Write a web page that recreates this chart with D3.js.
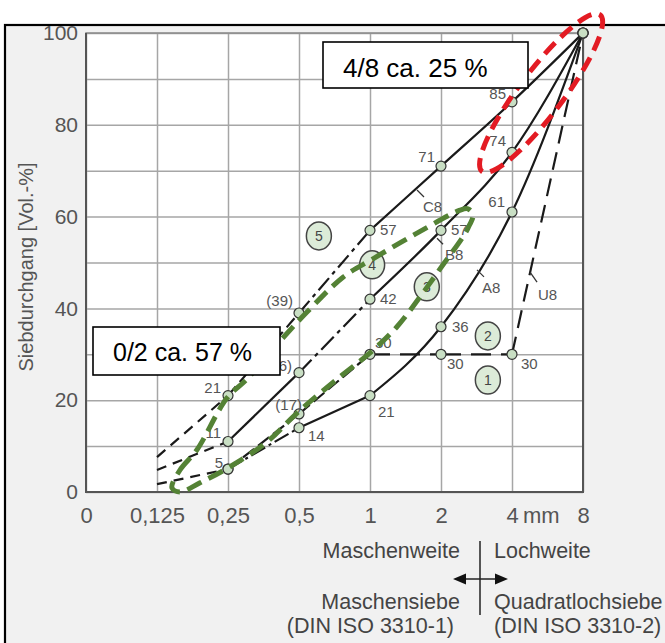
<!DOCTYPE html>
<html>
<head>
<meta charset="utf-8">
<script src="https://cdn.jsdelivr.net/npm/d3@7"></script>
<style>
body { margin: 0; background: #fff; }
text { font-family: "Liberation Sans", Arial, Helvetica, sans-serif; }
</style>
</head>
<body>
<div id="chart"></div>
<script>
// Sieblinien 0/8 mm (A8, B8, C8, U8)
const sieveLabels = ["0", "0,125", "0,25", "0,5", "1", "2", "4", "8"];
const yTicks = [0, 20, 40, 60, 80, 100];
const curveNames = ["A8", "B8", "C8", "U8"];
const valuesA8 = [null, 1.7, 5, 14, 21, 36, 61, 100];
const valuesB8 = [null, 4.8, 11, 26, 42, 57, 74, 100];
const valuesC8 = [null, 7.6, 21, 39, 57, 71, 85, 100];
const valuesU8 = [null, null, 5, 17, 30, 30, 30, 100];
const labelsA8 = ["", "", "5", "14", "21", "36", "61", ""];
const labelsB8 = ["", "", "11", "(26)", "42", "57", "74", ""];
const labelsC8 = ["", "", "21", "(39)", "57", "71", "85", ""];
const labelsU8 = ["", "", "", "(17)", "30", "30", "30", ""];
// Sieblinienbereiche
const zoneNames = ["1", "2", "3", "4", "5"];
const zoneX = [5.66, 5.66, 4.80, 4.03, 3.28];
const zoneY = [24.4, 34.0, 44.7, 49.5, 55.8];
// grüne Schleife 0/2 (Siebweite-Index, Durchgang %)
const loopX = [1.211, 1.324, 1.563, 1.986, 2.268, 2.775, 3.113, 3.620, 4.042, 4.662, 5.268, 5.380, 5.451,
               5.380, 5.310, 5.028, 4.704, 4.380, 4.000, 3.577, 2.972, 2.549, 2.028, 1.606, 1.324];
const loopY = [0.9, 4.8, 9.2, 20.5, 24.6, 33.6, 39.2, 46.8, 50.8, 56.4, 61.4, 61.7, 60.4,
               57.5, 55.6, 49.5, 42.5, 36.0, 30.3, 25.1, 17.2, 10.9, 5.5, 2.0, 0.0];
// rote Ellipse 4/8
const ovalX = 6.41, ovalY = 86.9;
const notes = ["4/8 ca. 25 %", "0/2 ca. 57 %"];

const width = 665, height = 643;
const svg = d3.select("#chart").append("svg").attr("width", width).attr("height", height);

const x = d3.scaleLinear().domain([0, 7]).range([86, 583]);
const y = d3.scaleLinear().domain([0, 100]).range([492, 33]);

// Rahmen + Hintergrund
svg.append("rect").attr("x", 5).attr("y", 25).attr("width", 720).attr("height", 700)
    .attr("fill", "#f1f1f1").attr("stroke", "#000").attr("stroke-width", 2.2);
svg.append("rect").attr("x", x(0)).attr("y", y(100)).attr("width", x(7) - x(0)).attr("height", y(0) - y(100))
    .attr("fill", "#fff");

// Gitter
let gx = svg.append("g").attr("transform", "translate(0," + y(0) + ")")
    .call(d3.axisBottom(x).tickValues(d3.range(8)).tickSize(-(y(0) - y(100))).tickFormat(""));
let gy = svg.append("g").attr("transform", "translate(" + x(0) + ",0)")
    .call(d3.axisLeft(y).tickValues(d3.range(0, 101, 10)).tickSize(-(x(7) - x(0))).tickFormat(""));
[gx, gy].forEach(g => {
    g.select(".domain").remove();
    g.selectAll("line").attr("stroke", "#a6a6a6").attr("stroke-width", 1.5);
});
svg.append("rect").attr("x", x(0)).attr("y", y(100)).attr("width", x(7) - x(0)).attr("height", y(0) - y(100))
    .attr("fill", "none").attr("stroke", "#8a8a8a").attr("stroke-width", 1.5);
svg.append("path").attr("d", "M" + x(0) + "," + y(100) + "V" + y(0) + "H" + x(7) + "V" + y(100))
    .attr("fill", "none").attr("stroke", "#555").attr("stroke-width", 2);

// Achsbeschriftung
let ax = svg.append("g").attr("transform", "translate(0," + y(0) + ")")
    .call(d3.axisBottom(x).tickValues(d3.range(8)).tickSize(0).tickPadding(15).tickFormat(i => sieveLabels[i]));
let ay = svg.append("g").attr("transform", "translate(" + x(0) + ",0)")
    .call(d3.axisLeft(y).tickValues(yTicks).tickSize(0).tickPadding(8));
[ax, ay].forEach(g => {
    g.select(".domain").remove();
    g.selectAll("text").attr("fill", "#555").attr("font-family", null);
});
ax.selectAll("text").attr("font-size", 22);
ay.selectAll("text").attr("font-size", 21);
svg.append("text").attr("x", x(6) + 11).attr("y", y(0) + 31).attr("font-size", 22).attr("fill", "#555").text("mm");
svg.append("text").attr("transform", "translate(33," + 267 + ") rotate(-90)").attr("text-anchor", "middle")
    .attr("font-size", 20).attr("fill", "#555").text("Siebdurchgang [Vol.-%]");

// Sieblinien
const curves = [valuesA8, valuesB8, valuesC8, valuesU8];
const labels = [labelsA8, labelsB8, labelsC8, labelsU8];
const segDash = [
    [null, "10,7", "16,4,3,4", "", null, null, null],
    [null, "10,7", "", "18,5,4,5", null, null, null],
    [null, "11,7", "12,6", "16,5,4,5", null, null, null],
    [null, null, "14,5", "14,5", "20,10", "20,10", "18,9"]
];
const smoothFrom = [4, 4, 4, 99];
const lineGen = d3.line().x(d => x(d[0])).y(d => y(d[1]));
const smoothGen = d3.line().x(d => x(d[0])).y(d => y(d[1])).curve(d3.curveMonotoneX);

let gl = svg.append("g").attr("id", "lines");
curves.forEach((vals, c) => {
    for (let i = 0; i < 7; i++) {
        if (vals[i] == null || vals[i + 1] == null || i >= smoothFrom[c]) continue;
        gl.append("path").attr("d", lineGen([[i, vals[i]], [i + 1, vals[i + 1]]]))
            .attr("fill", "none").attr("stroke", "#1a1a1a").attr("stroke-width", 2.2)
            .attr("stroke-dasharray", segDash[c][i] || null);
    }
    let pts = vals.map((v, i) => [i, v]).filter(d => d[0] >= smoothFrom[c]);
    if (pts.length > 1)
        gl.append("path").attr("d", smoothGen(pts)).attr("fill", "none").attr("stroke", "#1a1a1a").attr("stroke-width", 2.2);
});

// Kurvennamen mit Zeiger
const nameX = [5.507, 4.944, 4.662, 6.254];
const nameY = [48.4, 55.3, 65.8, 47.9];
const nameOff = [[5, 23, 7, 7], [8, 22, 6, 6], [6, 22, 7, 7], [8, 28, 7, 10]];
curveNames.forEach((n, c) => {
    let px = x(nameX[c]), py = y(nameY[c]), o = nameOff[c];
    svg.append("line").attr("x1", px).attr("y1", py).attr("x2", px + o[2]).attr("y2", py + o[3])
        .attr("stroke", "#333").attr("stroke-width", 1.3);
    svg.append("text").attr("x", px + o[0]).attr("y", py + o[1]).attr("font-size", 15).attr("fill", "#555").text(n);
});

// Messpunkte + Werte
const labelOff = [
    [null, null, [-5, -1, "end"], [9, 13, "start"], [8, 21, "start"], [11, 5, "start"], [-7, -5, "end"], null],
    [null, null, [-7, -4, "end"], [-7, -2, "end"], [10, 5, "start"], [10, 5, "start"], [-6, -6, "end"], null],
    [null, null, [-7, -3, "end"], [-6, -7, "end"], [10, 5, "start"], [-6, -4, "end"], [-6, -3, "end"], null],
    [null, null, null, [3, -4, "end"], [5, -6, "start"], [6, 15, "start"], [9, 15, "start"], null]
];
let gp = svg.append("g").attr("id", "points");
curves.forEach((vals, c) => {
    vals.forEach((v, i) => {
        if (v == null || i < 2) return;
        gp.append("circle").attr("cx", x(i)).attr("cy", y(v)).attr("r", 5)
            .attr("fill", "#c9dfc4").attr("stroke", "#333").attr("stroke-width", 1.2);
        let o = labelOff[c][i];
        if (labels[c][i] && o)
            gp.append("text").attr("x", x(i) + o[0]).attr("y", y(v) + o[1]).attr("text-anchor", o[2])
                .attr("font-size", 15).attr("fill", "#555").text(labels[c][i]);
    });
});

// Bereiche 1-5
zoneNames.forEach((n, i) => {
    svg.append("ellipse").attr("cx", x(zoneX[i])).attr("cy", y(zoneY[i])).attr("rx", 12.5).attr("ry", 14)
        .attr("fill", "#dcebd8").attr("stroke", "#444").attr("stroke-width", 1.5);
    svg.append("text").attr("x", x(zoneX[i])).attr("y", y(zoneY[i]) + 5).attr("text-anchor", "middle")
        .attr("font-size", 14).attr("fill", "#444").text(n);
});

// Markierungen
svg.append("path").attr("d", d3.line().x(d => x(d[0])).y(d => y(d[1])).curve(d3.curveCatmullRomClosed)(loopX.map((v, i) => [v, loopY[i]])))
    .attr("fill", "none").attr("stroke", "#548235").attr("stroke-width", 5).attr("stroke-dasharray", "16,8");
svg.append("ellipse").attr("cx", 0).attr("cy", 0).attr("rx", 98).attr("ry", 22)
    .attr("transform", "translate(" + x(ovalX) + "," + y(ovalY) + ") rotate(-53)")
    .attr("fill", "none").attr("stroke", "#e31b23").attr("stroke-width", 5).attr("stroke-dasharray", "15,8");

// Textkästen
const boxes = [[323, 42, 205, 46, 343, 77, 26], [93, 327, 187, 48, 113, 361, 25]];
boxes.forEach((b, i) => {
    svg.append("rect").attr("x", b[0]).attr("y", b[1]).attr("width", b[2]).attr("height", b[3])
        .attr("fill", "#fff").attr("stroke", "#000").attr("stroke-width", 1.6);
    svg.append("text").attr("x", b[4]).attr("y", b[5]).attr("font-size", b[6]).attr("fill", "#000").text(notes[i]);
});

// Legende Siebarten
const legLeft = ["Maschenweite", "Maschensiebe", "(DIN ISO 3310-1)"];
const legRight = ["Lochweite", "Quadratlochsiebe", "(DIN ISO 3310-2)"];
const legY = [558, 609, 633];
legLeft.forEach((t, i) => {
    svg.append("text").attr("x", i == 2 ? 454 : 460).attr("y", legY[i]).attr("text-anchor", "end")
        .attr("font-size", 21.5).attr("fill", "#444").text(t);
    svg.append("text").attr("x", 494).attr("y", legY[i]).attr("font-size", 21.5).attr("fill", "#444").text(legRight[i]);
});
svg.append("line").attr("x1", 480).attr("y1", 541).attr("x2", 480).attr("y2", 615).attr("stroke", "#222").attr("stroke-width", 1.5);
svg.append("line").attr("x1", 460).attr("y1", 579).attr("x2", 500).attr("y2", 579).attr("stroke", "#222").attr("stroke-width", 1.5);
svg.append("path").attr("d", "M453,579 L466,573.5 L466,584.5 Z M508,579 L495,573.5 L495,584.5 Z").attr("fill", "#111");
</script>
</body>
</html>
